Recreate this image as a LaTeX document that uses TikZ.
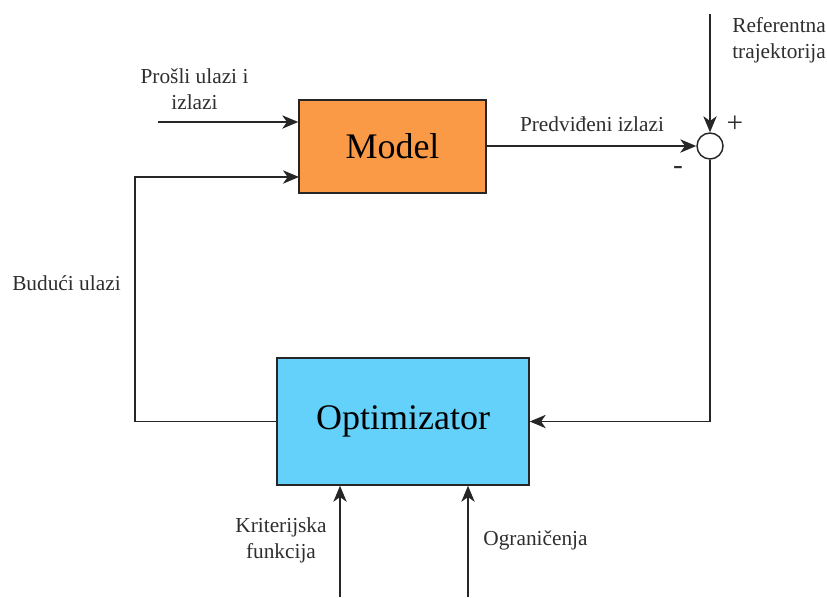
\documentclass[tikz,border=0pt]{standalone}
\usepackage{fontspec}
\setmainfont{Liberation Serif}
\usetikzlibrary{arrows.meta}
\definecolor{modelc}{HTML}{FA9A47}
\definecolor{optc}{HTML}{64D1FA}
\definecolor{txt}{HTML}{2E2E2E}
\begin{document}
\begin{tikzpicture}[x=0.75pt,y=-0.75pt,
  blk/.style={draw=black!85,line width=1.1pt,minimum width=#1,inner sep=0pt,font=\fontsize{27}{32}\selectfont},
  lbl/.style={text=txt,font=\fontsize{16}{19.5}\selectfont,inner sep=0pt,align=center},
  conn/.style={draw=black!85,line width=1.1pt},
  arr/.style={conn,-{Stealth[length=12pt,width=10pt,inset=3.5pt]}}]
\useasboundingbox (0,0) rectangle (827,597);
\node[blk=140.25pt,minimum height=69.75pt,fill=modelc] (model) at (392.5,146.5) {Model};
\node[blk=189pt,minimum height=95.25pt,fill=optc] (opt) at (403,421.5) {Optimizator};
\node[circle,draw=black!85,line width=1.1pt,minimum size=19.5pt,inner sep=0pt,fill=white] (sum) at (710,146) {};
% free ends
\coordinate (refin) at (710,14);
\coordinate (pastin) at (158,122);
\coordinate (kin) at (340,597);
\coordinate (oin) at (468,597);
% connectors
\draw[arr] (pastin) -- (pastin -| model.west);
\draw[arr] (model.east |- sum) -- (sum.west);
\draw[arr] (refin) -- (sum.north);
\draw[arr] (sum.south) |- (opt.east);
\draw[arr] (opt.west) -| (135,177) -- (299,177);
\draw[arr] (kin) -- (kin |- opt.south);
\draw[arr] (oin) -- (oin |- opt.south);
% labels
\node[lbl] (l1) at (194.5,89) {Prošli ulazi i\\izlazi};
\node[lbl] (l2) at (592,124) {Predviđeni izlazi};
\node[lbl,align=left,anchor=west] (l3) at (732,40) {Referentna\\trajektorija};
\node[lbl,font=\fontsize{22}{26}\selectfont] (plus) at (735,124) {+};
\node[lbl,font=\fontsize{22}{26}\selectfont] (minus) at (678,170) {-};
\node[lbl,anchor=west] (l4) at (12,283) {Budući ulazi};
\node[lbl] (l5) at (281,540) {Kriterijska\\funkcija};
\node[lbl] (l6) at (535.5,540) {Ograničenja};
\end{tikzpicture}
\end{document}
